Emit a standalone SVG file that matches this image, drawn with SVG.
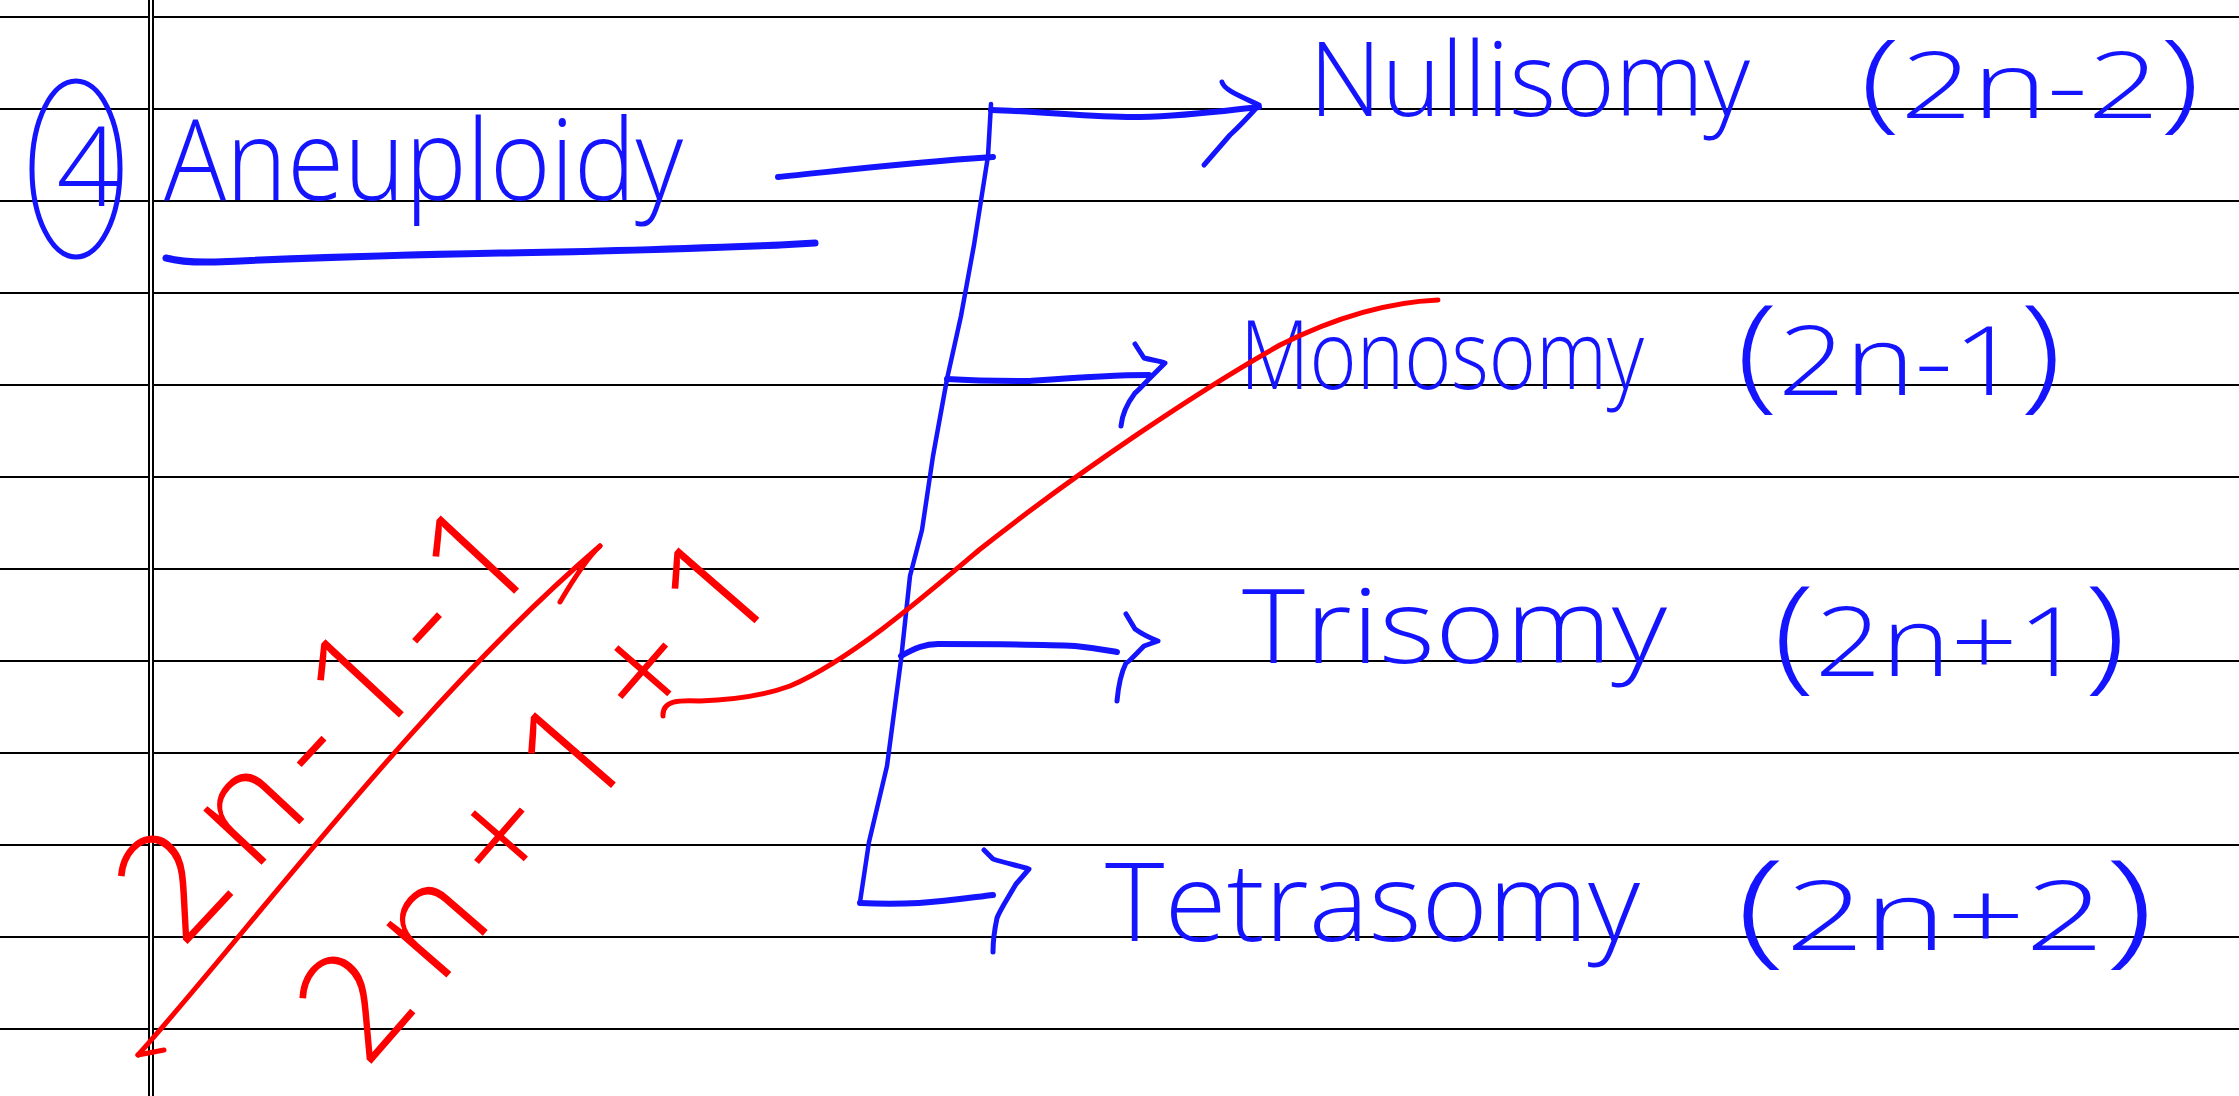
<svg xmlns="http://www.w3.org/2000/svg" width="2239" height="1096" viewBox="0 0 2239 1096">
<style>
.rule{stroke:#000;stroke-width:2}
.margin{stroke:#000;stroke-width:2}
.pen{fill:none;stroke:#1414ff;stroke-linecap:round;stroke-linejoin:round}
.redpen{fill:none;stroke:#ff0000;stroke-width:5;stroke-linecap:round;stroke-linejoin:round}
.hw{font-family:"Open Sans","Liberation Sans",sans-serif;font-weight:300;fill:#1414ff}
.hwr{font-family:"Open Sans","Liberation Sans",sans-serif;font-weight:300;fill:#ff0000}
</style>
<rect width="2239" height="1096" fill="#fff"/>
<g id="ruled-paper">
<line class="rule" x1="0" y1="17" x2="2239" y2="17"/>
<line class="rule" x1="0" y1="109" x2="2239" y2="109"/>
<line class="rule" x1="0" y1="201" x2="2239" y2="201"/>
<line class="rule" x1="0" y1="293" x2="2239" y2="293"/>
<line class="rule" x1="0" y1="385" x2="2239" y2="385"/>
<line class="rule" x1="0" y1="477" x2="2239" y2="477"/>
<line class="rule" x1="0" y1="569" x2="2239" y2="569"/>
<line class="rule" x1="0" y1="661" x2="2239" y2="661"/>
<line class="rule" x1="0" y1="753" x2="2239" y2="753"/>
<line class="rule" x1="0" y1="845" x2="2239" y2="845"/>
<line class="rule" x1="0" y1="937" x2="2239" y2="937"/>
<line class="rule" x1="0" y1="1029" x2="2239" y2="1029"/>
<rect x="148" y="0" width="6" height="1096" fill="#fff"/>
<line class="margin" x1="149" y1="0" x2="149" y2="1096"/>
<line class="margin" x1="153" y1="0" x2="153" y2="1096"/>
</g>
<g id="node-number">
<ellipse cx="76" cy="169" rx="44" ry="88" fill="none" stroke="#1414ff" stroke-width="5"/>
<text class="hw" x="88" y="206" font-size="110" text-anchor="middle">4</text>
</g>
<g id="node-aneuploidy">
<text class="hw" x="164" y="200" font-size="112" textLength="519" lengthAdjust="spacingAndGlyphs">Aneuploidy</text>
<path class="pen" stroke-width="7" d="M166,258 C185,263 200,262 215,262 C300,258 400,255 500,253 C600,252 700,248 780,245 L815,243"/>
</g>
<g id="node-nullisomy">
<text class="hw" x="1309" y="116" font-size="104" textLength="441" lengthAdjust="spacingAndGlyphs">Nullisomy</text>
<text class="hw" x="1860" y="118" font-size="92" textLength="340" lengthAdjust="spacingAndGlyphs"><tspan font-size="108">(</tspan>2n-2<tspan font-size="108">)</tspan></text>
</g>
<g id="node-monosomy">
<text class="hw" x="1240" y="389" font-size="96" textLength="404" lengthAdjust="spacingAndGlyphs">Monosomy</text>
<text class="hw" x="1736" y="395" font-size="95" textLength="326" lengthAdjust="spacingAndGlyphs"><tspan font-size="125">(</tspan>2n-1<tspan font-size="125">)</tspan></text>
</g>
<g id="node-trisomy">
<text class="hw" x="1242" y="663" font-size="104" textLength="425" lengthAdjust="spacingAndGlyphs">Trisomy</text>
<text class="hw" x="1773" y="676" font-size="95" textLength="353" lengthAdjust="spacingAndGlyphs"><tspan font-size="125">(</tspan>2n+1<tspan font-size="125">)</tspan></text>
</g>
<g id="node-tetrasomy">
<text class="hw" x="1105" y="941" font-size="108" textLength="535" lengthAdjust="spacingAndGlyphs">Tetrasomy</text>
<text class="hw" x="1736" y="950" font-size="95" textLength="418" lengthAdjust="spacingAndGlyphs"><tspan font-size="125">(</tspan>2n+2<tspan font-size="125">)</tspan></text>
</g>
<g id="connectors">
<path class="pen" stroke-width="6" d="M778,177 C830,172 900,163 993,157"/>
<path class="pen" stroke-width="4.5" d="M991,104 L988,156 L974,245 L961,316 L947,379 L933,456 L922,530 L910,576 L901,660 L887,766 L869,842 L860,902"/>
<path class="pen" stroke-width="6" d="M991,110 C1050,112 1100,118 1140,117 C1190,116 1230,110 1259,107"/>
<path class="pen" stroke-width="5" d="M1222,82 C1224,90 1240,96 1259,105 C1250,115 1240,126 1230,135 L1204,165"/>
<path class="pen" stroke-width="6" d="M947,379 C980,381 1010,381 1029,381 C1070,378 1110,375 1149,375"/>
<path class="pen" stroke-width="5" d="M1135,344 L1144,358 C1152,360 1160,361 1165,363 L1153,375 C1143,385 1137,392 1135,393 C1126,405 1122,415 1121,426"/>
<path class="pen" stroke-width="6" d="M901,656 C915,648 925,644 938,644 C980,644 1040,644 1075,646 C1095,648 1105,650 1117,652"/>
<path class="pen" stroke-width="5" d="M1126,614 L1135,629 C1142,634 1150,638 1158,641 L1144,646 C1135,655 1128,663 1126,663 C1120,675 1118,690 1117,701"/>
<path class="pen" stroke-width="6" d="M860,903 C880,904 900,904 919,903 C950,901 975,897 993,895"/>
<path class="pen" stroke-width="5" d="M984,850 L993,859 C1005,863 1020,866 1029,869 L1016,884 C1008,898 1000,910 997,918 C994,932 993,942 993,952"/>
</g>
<g id="red-annotation">
<path class="redpen" d="M138,1055 C250,930 420,700 600,546"/>
<path class="redpen" d="M138,1055 L164,1050"/>
<path class="redpen" d="M560,602 C570,585 585,560 600,546"/>
<path class="redpen" d="M663,716 C662,700 680,700 700,701 C730,700 760,697 790,686 C850,660 920,600 979,550 C1080,470 1200,390 1280,345 C1340,315 1390,302 1438,300"/>
<text class="hwr" transform="translate(182,950) rotate(-47)" font-size="150" textLength="530" lengthAdjust="spacing">2n-1-1</text>
<text class="hwr" transform="translate(366,1070) rotate(-49)" font-size="150" textLength="635" lengthAdjust="spacing">2n+1+1</text>
</g>
</svg>
